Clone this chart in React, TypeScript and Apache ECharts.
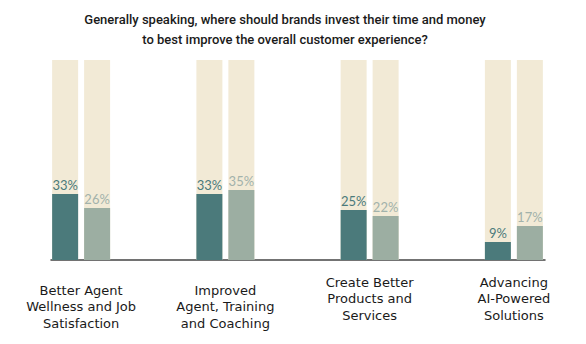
import React, { useEffect, useRef } from "react";
import * as echarts from "echarts";

const titleLines = [
  "Generally speaking, where should brands invest their time and money",
  "to best improve the overall customer experience?",
];
const categories = [
  "Better Agent\nWellness and Job\nSatisfaction",
  "Improved\nAgent, Training\nand Coaching",
  "Create Better\nProducts and\nServices",
  "Advancing\nAI-Powered\nSolutions",
];
const seriesA = [33, 33, 25, 9];
const seriesB = [26, 35, 22, 17];
const maxValue = 100;

const DARK = "#4B7A7B";
const LIGHT = "#9CAEA2";
const BG = "#F2EAD6";

export default function App() {
  const ref = useRef<HTMLDivElement>(null);
  useEffect(() => {
    if (!ref.current) return;
    const chart = echarts.init(ref.current, null, { renderer: "svg" });
    const labelFont = "Lato, 'Noto Sans', sans-serif";
    chart.setOption({
      animation: false,
      backgroundColor: "#ffffff",
      title: {
        text: titleLines.join("\n"),
        left: 280,
        top: 5,
        textAlign: "center",
        textStyle: {
          fontFamily: "Roboto, sans-serif",
          fontSize: 13,
          fontWeight: 500,
          color: "#1a1a1a",
          lineHeight: 19.5,
        },
      },
      grid: [
        { left: 9, width: 579, top: 60, height: 200 },
        { left: 51, right: 41, top: 60, height: 200 },
      ],
      xAxis: [
        {
          type: "category",
          gridIndex: 0,
          data: categories.map((c, i) => ({
            value: c,
            textStyle: { padding: i < 2 ? [8, 0, 0, 0] : [0, 0, 0, 0] },
          })),
          axisLine: { show: false },
          axisTick: { show: false },
          axisLabel: {
            margin: 14,
            fontFamily: "'DejaVu Sans', sans-serif",
            fontSize: 13,
            lineHeight: 16.5,
            color: "#1a1a1a",
            interval: 0,
          },
        },
        {
          type: "value",
          gridIndex: 1,
          min: 0,
          max: 1,
          axisLine: { show: true, onZero: false, lineStyle: { color: "#444", width: 1.5 } },
          axisTick: { show: false },
          axisLabel: { show: false },
          splitLine: { show: false },
        },
      ],
      yAxis: [
        { type: "value", gridIndex: 0, min: 0, max: maxValue, show: false },
        { type: "value", gridIndex: 1, min: 0, max: 1, show: false },
      ],
      series: [
        {
          type: "bar",
          xAxisIndex: 0,
          yAxisIndex: 0,
          data: seriesA,
          barWidth: 26,
          barGap: "23%",
          itemStyle: { color: DARK },
          showBackground: true,
          backgroundStyle: { color: BG },
          label: {
            show: true,
            position: "top",
            distance: 3,
            formatter: "{c}%",
            fontFamily: labelFont,
            fontSize: 13,
            color: "#4B7A7B",
          },
        },
        {
          type: "bar",
          xAxisIndex: 0,
          yAxisIndex: 0,
          data: seriesB,
          barWidth: 26,
          barGap: "23%",
          itemStyle: { color: LIGHT },
          showBackground: true,
          backgroundStyle: { color: BG },
          label: {
            show: true,
            position: "top",
            distance: 3,
            formatter: "{c}%",
            fontFamily: labelFont,
            fontSize: 13,
            color: "#A2B2AB",
          },
        },
      ],
    });
    return () => chart.dispose();
  }, []);
  return (
    <div
      ref={ref}
      style={{ position: "absolute", left: 0, top: 0, width: 586, height: 344 }}
    />
  );
}
